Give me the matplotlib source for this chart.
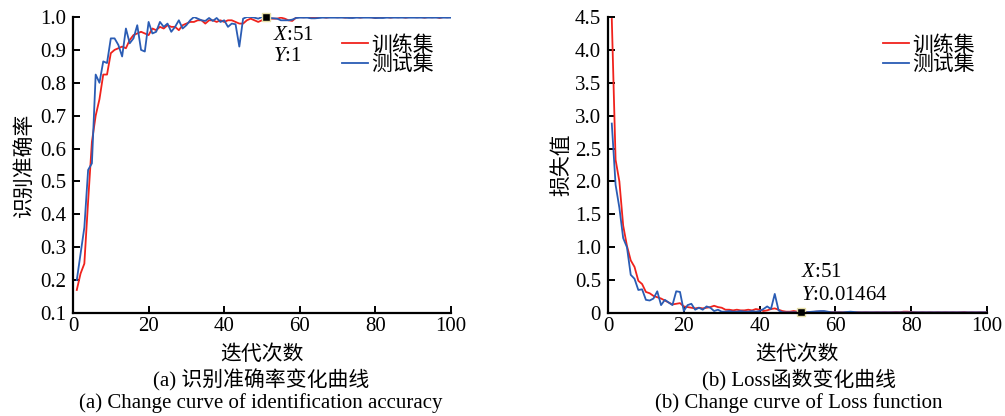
import numpy as np
import matplotlib
matplotlib.use('Agg')
import matplotlib.pyplot as plt

# fonts: Times-like for latin, CJK fallback for Chinese
plt.rcParams['font.family'] = ['Liberation Serif', 'Noto Sans CJK SC']
plt.rcParams['font.size'] = 15
plt.rcParams['mathtext.fontset'] = 'custom'
plt.rcParams['mathtext.rm'] = 'Liberation Serif'
plt.rcParams['mathtext.it'] = 'Liberation Serif:italic'

epochs = np.arange(1, 101)

# (a) identification accuracy
acc_train = [0.17, 0.22, 0.25, 0.44, 0.62, 0.70, 0.75, 0.825, 0.825, 0.89,
             0.90, 0.905, 0.91, 0.905, 0.93, 0.945, 0.95, 0.955, 0.95, 0.945,
             0.965, 0.96, 0.97, 0.965, 0.975, 0.97, 0.97, 0.96, 0.975, 0.98,
             0.985, 0.985, 0.99, 0.99, 0.98, 0.99, 0.99, 0.985, 0.99, 0.985,
             0.99, 0.99, 0.985, 0.98, 0.98, 0.99, 0.995, 0.99, 0.985, 0.99,
             1.0, 0.995, 0.995, 0.995, 0.998, 0.995, 0.99, 0.988, 0.998, 1.0,
             0.999, 1.0, 0.998, 1.0, 0.999, 1.0, 0.998, 1.0, 1.0, 0.999,
             1.0, 0.998, 1.0, 0.999, 1.0, 0.998, 1.0, 1.0, 0.999, 0.997,
             1.0, 0.999, 1.0, 0.998, 1.0, 0.999, 1.0, 0.998, 1.0, 1.0,
             0.999, 1.0, 0.998, 1.0, 0.999, 1.0, 0.997, 1.0, 0.999, 1.0]
acc_test = [0.20, 0.28, 0.36, 0.535, 0.555, 0.825, 0.80, 0.865, 0.86, 0.935,
            0.935, 0.915, 0.88, 0.965, 0.92, 0.935, 0.975, 0.90, 0.895, 0.985,
            0.95, 0.955, 0.985, 0.97, 0.98, 0.955, 0.97, 0.99, 0.965, 0.975,
            0.99, 1.0, 0.995, 0.99, 0.988, 0.997, 0.988, 0.997, 0.985, 0.99,
            0.97, 0.98, 0.978, 0.91, 0.995, 1.0, 1.0, 0.998, 0.995, 1.0,
            0.998, 0.997, 0.996, 0.995, 0.99, 0.99, 0.99, 0.992, 0.997, 0.998,
            0.998, 0.998, 0.996, 0.996, 0.997, 0.998, 0.998, 0.998, 0.998, 0.998,
            0.998, 0.998, 0.997, 0.997, 0.998, 0.998, 0.998, 0.998, 0.998, 0.997,
            0.997, 0.997, 0.998, 0.998, 0.998, 0.998, 0.998, 0.998, 0.998, 0.998,
            0.998, 0.998, 0.998, 0.998, 0.998, 0.998, 0.998, 0.998, 0.998, 0.998]

# (b) loss
loss_train = [4.47, 2.33, 2.0, 1.33, 1.02, 0.80, 0.70, 0.49, 0.44, 0.32,
              0.30, 0.26, 0.24, 0.22, 0.19, 0.16, 0.13, 0.14, 0.15, 0.10,
              0.09, 0.08, 0.07, 0.08, 0.07, 0.08, 0.09, 0.11, 0.09, 0.08,
              0.05, 0.05, 0.04, 0.05, 0.04, 0.04, 0.05, 0.04, 0.06, 0.05,
              0.03, 0.04, 0.06, 0.07, 0.05, 0.03, 0.02, 0.02, 0.03, 0.02,
              0.01464, 0.015, 0.012, 0.015, 0.02, 0.018, 0.02, 0.015, 0.012, 0.01,
              0.012, 0.01, 0.012, 0.015, 0.01, 0.012, 0.01, 0.012, 0.01, 0.01,
              0.012, 0.01, 0.012, 0.01, 0.012, 0.015, 0.012, 0.02, 0.02, 0.015,
              0.012, 0.01, 0.012, 0.01, 0.012, 0.01, 0.012, 0.01, 0.012, 0.01,
              0.012, 0.01, 0.012, 0.015, 0.01, 0.012, 0.01, 0.012, 0.01, 0.012]
loss_test = [2.88, 1.95, 1.60, 1.14, 1.00, 0.58, 0.52, 0.35, 0.36, 0.20,
             0.19, 0.22, 0.33, 0.12, 0.20, 0.16, 0.12, 0.33, 0.32, 0.03,
             0.12, 0.14, 0.05, 0.08, 0.05, 0.10, 0.08, 0.03, 0.05, 0.02,
             0.02, 0.03, 0.02, 0.02, 0.03, 0.02, 0.02, 0.03, 0.02, 0.03,
             0.06, 0.10, 0.06, 0.29, 0.04, 0.01, 0.01, 0.01, 0.01, 0.01,
             0.01, 0.01, 0.015, 0.02, 0.025, 0.03, 0.03, 0.02, 0.01, 0.01,
             0.01, 0.01, 0.015, 0.02, 0.015, 0.01, 0.01, 0.01, 0.01, 0.01,
             0.01, 0.01, 0.01, 0.01, 0.01, 0.01, 0.01, 0.01, 0.01, 0.01,
             0.01, 0.01, 0.01, 0.01, 0.01, 0.01, 0.01, 0.01, 0.01, 0.01,
             0.01, 0.01, 0.01, 0.01, 0.01, 0.01, 0.01, 0.01, 0.01, 0.01]

acc_yticks = [0.1, 0.2, 0.3, 0.4, 0.5, 0.6, 0.7, 0.8, 0.9, 1.0]
loss_yticks = [0, 0.5, 1.0, 1.5, 2.0, 2.5, 3.0, 3.5, 4.0, 4.5]
loss_ylabels = ['0', '0.5', '1.0', '1.5', '2.0', '2.5', '3.0', '3.5', '4.0', '4.5']
xticks = [0, 20, 40, 60, 80, 100]

red = '#f0221c'
blue = '#2a5cb4'

W, H = 1005, 416
fig = plt.figure(figsize=(W / 100, H / 100), dpi=100)

def px(x0, y0, w, h):
    return [x0 / W, 1 - (y0 + h) / H, w / W, h / H]

ax1 = fig.add_axes(px(73, 17, 378, 296))
ax2 = fig.add_axes(px(608, 17, 379, 296))

for ax in (ax1, ax2):
    for s in ('top', 'right'):
        ax.spines[s].set_visible(False)
    for s in ('left', 'bottom'):
        ax.spines[s].set_linewidth(1.6)
    ax.tick_params(direction='in', length=5, width=1.4, labelsize=15)
    ax.tick_params(axis='x', pad=3)
    ax.tick_params(axis='y', pad=5)
    ax.set_xlim(0, 100)
    ax.set_xticks(xticks)
    ax.set_xlabel('迭代次数', fontsize=15, labelpad=7)

ax1.plot(epochs, acc_train, color=red, lw=1.3, label='训练集')
ax1.plot(epochs, acc_test, color=blue, lw=1.3, label='测试集')
ax1.set_ylim(0.1, 1.0)
ax1.set_yticks(acc_yticks)
ax1.set_yticklabels(['%.1f' % v for v in acc_yticks])
ax1.set_ylabel('识别准确率', fontsize=15, labelpad=4)
ax1.plot([51], [acc_train[50]], 's', color='black', mec='#e6dfa8', ms=6, clip_on=False)
ax1.text(53, 0.945, '$X$:51', fontsize=15, va='center', ha='left')
ax1.text(53, 0.881, '$Y$:1', fontsize=15, va='center', ha='left')
ax1.legend(loc='upper right', bbox_to_anchor=(0.976, 0.965), frameon=False, fontsize=15,
           handlelength=1.25, handletextpad=0.15, labelspacing=0.0, borderaxespad=0.0)

ax2.plot(epochs, loss_train, color=red, lw=1.3, label='训练集')
ax2.plot(epochs, loss_test, color=blue, lw=1.3, label='测试集')
ax2.set_ylim(0, 4.5)
ax2.set_yticks(loss_yticks)
ax2.set_yticklabels(loss_ylabels)
ax2.set_ylabel('损失值', fontsize=15, labelpad=2)
ax2.plot([51], [loss_train[50]], 's', color='black', mec='#e6dfa8', ms=6, clip_on=False)
ax2.text(50.8, 0.62, '$X$:51', fontsize=15, va='center', ha='left')
ax2.text(50.8, 0.27, '$Y$:0.01464', fontsize=15, va='center', ha='left')
ax2.legend(loc='upper right', bbox_to_anchor=(0.99, 0.965), frameon=False, fontsize=15,
           handlelength=1.25, handletextpad=0.15, labelspacing=0.0, borderaxespad=0.0)

fig.text(261 / W, 1 - 380 / H, '(a) 识别准确率变化曲线', ha='center', va='center', fontsize=15)
fig.text(261 / W, 1 - 403 / H, '(a) Change curve of identification accuracy', ha='center', va='center', fontsize=15)
fig.text(799 / W, 1 - 380 / H, '(b) Loss函数变化曲线', ha='center', va='center', fontsize=15)
fig.text(799 / W, 1 - 403 / H, '(b) Change curve of Loss function', ha='center', va='center', fontsize=15)

fig.savefig('out.png', dpi=100)
